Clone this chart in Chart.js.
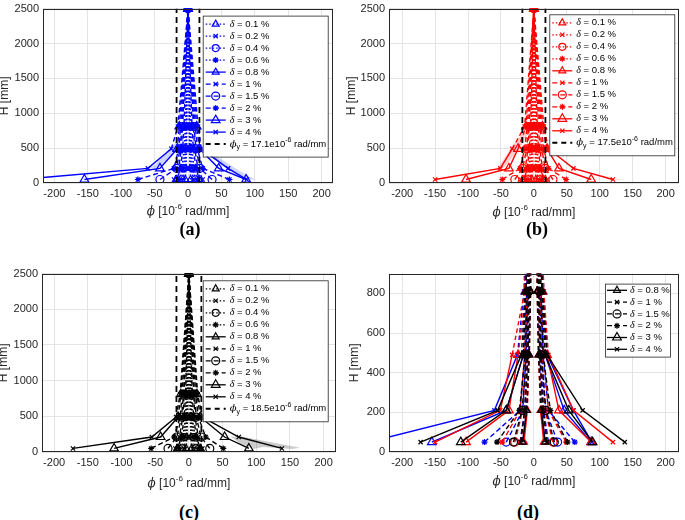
<!DOCTYPE html>
<html><head><meta charset="utf-8">
<script src="https://cdn.jsdelivr.net/npm/chart.js@4.4.0/dist/chart.umd.min.js"></script>
<style>
html,body{margin:0;padding:0;background:#fff;width:685px;height:520px;overflow:hidden;position:relative}
canvas{position:absolute}
.lab{position:absolute;width:60px;text-align:center;font:bold 18px "Liberation Serif",serif;color:#000;line-height:20px}
</style></head><body>
<canvas id="ca" width="342" height="224" style="left:0;top:-2px"></canvas>
<canvas id="cb" width="342" height="224" style="left:343px;top:-2px"></canvas>
<canvas id="cc" width="342" height="228" style="left:0;top:263px"></canvas>
<canvas id="cd" width="342" height="228" style="left:343px;top:263px"></canvas>
<div class="lab" style="left:160px;top:219px">(a)</div>
<div class="lab" style="left:507px;top:219px">(b)</div>
<div class="lab" style="left:159px;top:502px">(c)</div>
<div class="lab" style="left:498px;top:502px">(d)</div>
<script>
// ---------------- DATA ----------------
const heights = [50, 210, 490, 810, 2500];
const driftLabels = ['0.1','0.2','0.4','0.6','0.8','1','1.5','2','3','4'];
const xTicks = [-200,-150,-100,-50,0,50,100,150,200];
const yTicksFull = [0,500,1000,1500,2000,2500];
const yTicksZoom = [0,200,400,600,800];
const phiYa = 17.1, phiYb = 17.5, phiYc = 18.5;

const blueNeg = [
  [-4,-3,-2,-2,0],[-7,-5,-3,-2,0],[-10,-7,-4,-3,0],[-13,-9,-6,-4,0],[-17,-11,-8,-6,0],
  [-21,-14,-10,-8,0],[-42,-17,-12,-9,0],[-75,-21,-14,-11,0],[-155,-42,-16,-13,0],[-250,-60,-25,-15,0]];
const bluePos = [
  [4,3,2,2,0],[8,5,3,2,0],[11,7,4,3,0],[14,9,6,4,0],[17,12,8,6,0],
  [22,15,10,8,0],[36,18,12,9,0],[62,22,14,11,0],[87,46,17,13,0],[88,60,20,15,0]];
const redNeg = [
  [-3,-2,-2,-1,0],[-6,-4,-3,-2,0],[-9,-6,-4,-3,0],[-12,-8,-5,-4,0],[-15,-10,-7,-5,0],
  [-20,-13,-9,-7,0],[-29,-17,-11,-8,0],[-48,-21,-14,-10,0],[-103,-38,-24,-12,0],[-150,-51,-33,-14,0]];
const redPos = [
  [3,2,2,1,0],[6,4,3,2,0],[9,6,4,3,0],[12,8,5,4,0],[15,10,7,5,0],
  [20,13,9,7,0],[29,17,12,9,0],[49,22,15,11,0],[87,38,20,13,0],[120,60,22,15,0]];
const blackNeg = [
  [-4,-3,-2,-1,0],[-7,-5,-3,-2,0],[-10,-7,-4,-3,0],[-14,-9,-5,-4,0],[-17,-11,-7,-5,0],
  [-20,-14,-9,-7,0],[-31,-18,-11,-8,0],[-56,-22,-13,-10,0],[-111,-42,-16,-12,0],[-172,-55,-19,-13,0]];
const blackPos = [
  [4,3,2,1,0],[7,5,3,2,0],[10,7,4,3,0],[14,9,5,4,0],[17,11,7,5,0],
  [20,14,9,7,0],[31,18,11,8,0],[51,25,14,10,0],[89,53,17,12,0],[138,74,20,13,0]];

const blueBandNeg = [[-68,200],[-44,214],[-24,380],[-10,600],[-6,700],[-14,620],[-30,470],[-50,250]];
const blueBandPos = [[14,540],[24,500],[70,215],[100,50],[84,45],[58,200],[20,470]];
const redBandNeg = [[-58,190],[-46,220],[-22,480],[-8,730],[-12,770],[-34,520],[-52,250]];
const redBandPos = [[108,62],[138,50],[124,40]];
const blackBandPos = [[62,218],[80,212],[128,125],[165,58],[152,42],[110,70],[96,42],[76,120]];

// ---------------- STYLE ----------------
const markers = ['triangle','crossRot','circle','star','triangle','crossRot','circle','star','triangle','crossRot'];
const markerR = [4,3,3.5,3,4,3,4,3,5,3];
const baseDash = [[1.5,2],[1.5,2],[1.5,2],[1.5,2],[],[5,3],[5,3],[5,3],[],[]];
const dashFrom = [null,null,null,null,210,810,810,810,490,490];
const FONT = '"Liberation Sans", Arial, sans-serif';
Chart.defaults.font.family = FONT;

function series(neg, pos, color, idx) {
  const out = [];
  idx.forEach(i => {
    [neg[i], pos[i]].forEach(vals => {
      out.push({
        data: heights.map((h,k) => ({x: vals[k], y: h})),
        borderColor: color, borderWidth: 1.4, borderDash: baseDash[i],
        pointStyle: markers[i], pointRadius: markerR[i], pointBorderWidth: 1.2,
        pointBorderColor: color,
        pointBackgroundColor: markers[i] === 'star' ? color : 'rgba(0,0,0,0)',
        fill: false, tension: 0,
        segment: { borderDash: c => (dashFrom[i] !== null && c.p0.parsed.y >= dashFrom[i]) ? [4.5,3] : undefined }
      });
    });
  });
  return out;
}
function band(poly, rgba) {
  return { data: poly.map(p => ({x:p[0], y:p[1]})), fill: 'shape', backgroundColor: rgba,
           borderWidth: 0, pointRadius: 0, order: 10, tension: 0 };
}
function phiLine(v, yMax) {
  return [-v, v].map(x => ({ data: [{x, y:0},{x, y:yMax}], borderColor:'#000', borderWidth:1.8,
    borderDash:[6,4], pointRadius:0, fill:false }));
}
function drawRuns(ctx, runs, x, y, align) {
  let w = 0;
  runs.forEach(r => { ctx.font = r.f; r.w = ctx.measureText(r.t).width; w += r.w; });
  let cx = align === 'center' ? x - w/2 : x;
  ctx.textBaseline = 'middle'; ctx.textAlign = 'left';
  runs.forEach(r => { ctx.font = r.f; ctx.fillText(r.t, cx, y + (r.dy||0)); cx += r.w; });
}
function deltaRuns(lab) {
  return [{t:'δ', f:'italic 10px "Liberation Serif", serif'}, {t:' = ' + lab + ' %', f:'9.5px ' + FONT}];
}
function phiRuns(v) {
  return [{t:'ϕ', f:'italic 10px "DejaVu Serif", serif'}, {t:'y', f:'7px ' + FONT, dy:3},
          {t:' = ' + v + 'e10', f:'9.5px ' + FONT}, {t:'-6', f:'7px ' + FONT, dy:-4},
          {t:' rad/mm', f:'9.5px ' + FONT}];
}
function legendItems(color, idx, phi) {
  const items = idx.map(i => ({ color, dash: baseDash[i], ps: markers[i], r: markerR[i],
     fill: markers[i] === 'star' ? color : 'rgba(0,0,0,0)', runs: deltaRuns(driftLabels[i]) }));
  if (phi !== null) items.push({ color:'#000', dash:[5,4], lw:2, ps:null, runs: phiRuns(phi) });
  return items;
}

const decor = {
  id: 'decor',
  afterDraw(chart, args, o) {
    const ctx = chart.ctx, a = chart.chartArea;
    ctx.save();
    ctx.setLineDash([]);
    ctx.strokeStyle = '#262626'; ctx.lineWidth = 1;
    ctx.strokeRect(Math.round(a.left)+0.5, Math.round(a.top)+0.5, Math.round(a.width)-1, Math.round(a.height)-1);
    ctx.fillStyle = '#262626';
    drawRuns(ctx, [{t:'ϕ', f:'italic 12px "DejaVu Serif", serif'}, {t:' [10', f:'12px ' + FONT},
                   {t:'-6', f:'8px ' + FONT, dy:-5}, {t:' rad/mm]', f:'12px ' + FONT}],
             (a.left + a.right)/2, a.bottom + o.xTitleOff, 'center');
    ctx.save();
    ctx.translate(o.yTitleX, (a.top + a.bottom)/2); ctx.rotate(-Math.PI/2);
    ctx.font = '12px ' + FONT; ctx.textAlign = 'center'; ctx.textBaseline = 'middle';
    ctx.fillText('H [mm]', 0, 0);
    ctx.restore();
    const L = o.legend;
    const x0 = a.left + L.left, y0 = a.top + L.top;
    ctx.fillStyle = '#fff'; ctx.fillRect(x0, y0, L.w, L.h);
    ctx.strokeStyle = '#262626'; ctx.lineWidth = 0.8; ctx.strokeRect(x0+0.5, y0+0.5, L.w, L.h);
    L.items.forEach((it, k) => {
      const y = y0 + L.first + k * L.step;
      ctx.strokeStyle = it.color; ctx.lineWidth = it.lw || 1.3; ctx.setLineDash(it.dash);
      ctx.beginPath(); ctx.moveTo(x0 + L.s0, y); ctx.lineTo(x0 + L.s1, y); ctx.stroke();
      ctx.setLineDash([]);
      if (it.ps) {
        ctx.fillStyle = it.fill; ctx.strokeStyle = it.color; ctx.lineWidth = 1.2;
        Chart.helpers.drawPoint(ctx, {pointStyle: it.ps, radius: it.r, rotation: 0, borderWidth: 1.2},
                                x0 + (L.s0 + L.s1)/2, y);
      }
      ctx.fillStyle = '#000';
      drawRuns(ctx, it.runs, x0 + L.tx, y, 'left');
    });
    ctx.restore();
  }
};

function makeChart(id, c) {
  return new Chart(document.getElementById(id), {
    type: 'line',
    data: { datasets: c.datasets },
    plugins: [decor],
    options: {
      responsive: false, animation: false, events: [],
      layout: { padding: { left: 0, right: c.padR, top: 7, bottom: 0 } },
      plugins: { legend: {display:false}, tooltip: {enabled:false}, decor: c.decor },
      scales: {
        x: { type:'linear', min: -c.xr, max: c.xr,
             afterBuildTicks: s => { s.ticks = xTicks.map(v => ({value:v})); },
             afterFit: s => { s.height = 39; },
             grid: { color:'#e4e4e4', drawTicks:false }, border: {display:false},
             ticks: { padding:4, color:'#262626', font:{size:11}, callback: v => String(v) } },
        y: { type:'linear', min: 0, max: c.yMax,
             afterBuildTicks: s => { s.ticks = c.yTicks.map(v => ({value:v})); },
             afterFit: s => { s.width = c.yW; },
             grid: { color:'#e4e4e4', drawTicks:false }, border: {display:false},
             ticks: { padding:4, color:'#262626', font:{size:11}, callback: v => String(v) } }
      }
    }
  });
}

const allIdx = [0,1,2,3,4,5,6,7,8,9];
const bigIdx = [4,5,6,7,8,9];
const legABC = (color, phi, left, top) => ({ left, top, w:125, h:141, first:8.5, step:12,
   s0:3, s1:23, tx:27, items: legendItems(color, allIdx, phi) });

makeChart('ca', { xr:217, yMax:2500, yTicks:yTicksFull, yW:43, padR:9,
  datasets: [...phiLine(phiYa, 2500), ...series(blueNeg, bluePos, '#0000ff', allIdx),
             band(blueBandNeg, 'rgba(60,90,255,0.25)'), band(blueBandPos, 'rgba(60,90,255,0.25)')],
  decor: { xTitleOff:29, yTitleX:5, legend: legABC('#0000ff', phiYa, 159.7, 7) } });

makeChart('cb', { xr:220, yMax:2500, yTicks:yTicksFull, yW:46, padR:2,
  datasets: [...phiLine(phiYb, 2500), ...series(redNeg, redPos, '#ff0000', allIdx),
             band(redBandNeg, 'rgba(255,60,60,0.25)'), band(redBandPos, 'rgba(255,60,60,0.25)')],
  decor: { xTitleOff:30, yTitleX:9, legend: legABC('#ff0000', phiYb, 160.3, 5.7) } });

makeChart('cc', { xr:218, yMax:2500, yTicks:yTicksFull, yW:42, padR:5,
  datasets: [...phiLine(phiYc, 2500), ...series(blackNeg, blackPos, '#000000', allIdx),
             band(blackBandPos, 'rgba(0,0,0,0.2)')],
  decor: { xTitleOff:32, yTitleX:4, legend: legABC('#000000', phiYc, 160.7, 6.7) } });

makeChart('cd', { xr:220, yMax:900, yTicks:yTicksZoom, yW:46, padR:2,
  datasets: [...series(blackNeg, blackPos, '#000000', bigIdx),
             ...series(redNeg, redPos, '#ff0000', bigIdx),
             ...series(blueNeg, bluePos, '#0000ff', bigIdx)],
  decor: { xTitleOff:30, yTitleX:12, legend: { left:216, top:10, w:65, h:73, first:6.7, step:11.8,
     s0:2, s1:22, tx:25, items: legendItems('#000000', bigIdx, null) } } });
</script>
</body></html>
